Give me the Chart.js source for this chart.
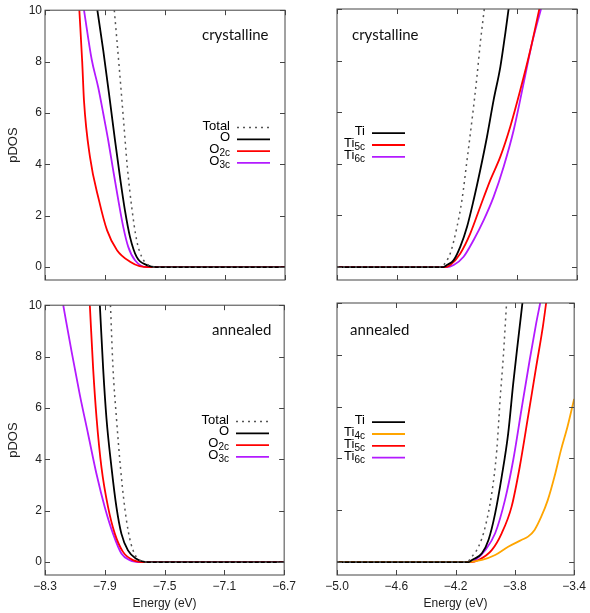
<!DOCTYPE html>
<html>
<head>
<meta charset="utf-8">
<script src="https://cdn.jsdelivr.net/npm/chart.js@4.4.0/dist/chart.umd.min.js"></script>
<style>
  body { margin: 0; background: #fff; }
  #wrap { position: relative; width: 590px; height: 613px; overflow: hidden; }
  canvas { position: absolute; }
</style>
</head>
<body>
<div id="wrap">
  <canvas id="tl" width="300" height="300" style="left:0;top:0"></canvas>
  <canvas id="tr" width="300" height="300" style="left:290px;top:0"></canvas>
  <canvas id="bl" width="300" height="318" style="left:0;top:295px"></canvas>
  <canvas id="br" width="300" height="318" style="left:290px;top:295px"></canvas>
</div>
<script>
// tick values
var oTicks = [-8.3, -7.9, -7.5, -7.1, -6.7];
var tiTicks = [-5.0, -4.6, -4.2, -3.8, -3.4];
var yTicks = [0, 2, 4, 6, 8, 10];

// legend names ("_" marks the subscript)
var oNames = ["Total", "O", "O_2c", "O_3c"];
var tiNamesCrys = ["Total", "Ti", "Ti_5c", "Ti_6c"];
var tiNamesAnn = ["Total", "Ti", "Ti_4c", "Ti_5c", "Ti_6c"];

// [energy (eV), pDOS]
// crystalline, O edge
var crysOTotal = [[-7.838,10],[-7.805,7.76],[-7.778,5.83],[-7.751,3.89],[-7.722,2.34],[-7.689,1.05],[-7.655,0.4],[-7.611,0.08],[-7.555,0],[-6.7,0]];
var crysO = [[-7.951,10],[-7.911,8.41],[-7.867,6.47],[-7.833,4.92],[-7.8,3.5],[-7.767,2.21],[-7.733,1.17],[-7.689,0.4],[-7.622,0.08],[-7.555,0],[-6.7,0]];
var crysO2c = [[-8.071,10],[-8.052,8],[-8.04,6.47],[-8.0,4.28],[-7.94,2.6],[-7.886,1.43],[-7.82,0.66],[-7.73,0.2],[-7.67,0.04],[-7.6,0],[-6.7,0]];
var crysO3c = [[-8.04,10],[-7.989,8.09],[-7.945,6.99],[-7.911,5.96],[-7.878,4.92],[-7.845,3.76],[-7.811,2.6],[-7.778,1.56],[-7.745,0.79],[-7.7,0.27],[-7.622,0],[-6.7,0]];
// crystalline, Ti edge
var crysTiTotal = [[-5.0,0],[-4.3,0],[-4.289,0.08],[-4.245,0.53],[-4.2,1.56],[-4.167,2.6],[-4.133,4.15],[-4.1,5.7],[-4.067,7.38],[-4.045,8.67],[-4.018,10]];
var crysTi = [[-5.0,0],[-4.29,0],[-4.267,0.08],[-4.222,0.27],[-4.178,0.79],[-4.133,1.56],[-4.089,2.6],[-4.045,3.76],[-4.0,5.05],[-3.956,6.47],[-3.911,7.76],[-3.878,9.06],[-3.856,10]];
var crysTi5c = [[-5.0,0],[-4.28,0],[-4.245,0.08],[-4.178,0.53],[-4.111,1.31],[-4.045,2.34],[-3.978,3.37],[-3.911,4.28],[-3.845,5.44],[-3.778,6.86],[-3.711,8.41],[-3.651,10]];
var crysTi6c = [[-5.0,0],[-4.27,0],[-4.222,0.08],[-4.156,0.4],[-4.089,1.05],[-4.022,1.82],[-3.956,2.72],[-3.889,3.89],[-3.822,5.31],[-3.756,7.12],[-3.7,8.67],[-3.64,10]];
// annealed, O edge
var annOTotal = [[-7.862,10],[-7.845,7.54],[-7.822,5.61],[-7.795,3.68],[-7.767,2.14],[-7.74,1.11],[-7.711,0.46],[-7.667,0.08],[-7.589,0],[-6.7,0]];
var annO = [[-7.933,10],[-7.911,7.54],[-7.889,5.61],[-7.855,3.68],[-7.822,2.14],[-7.789,1.11],[-7.745,0.46],[-7.689,0.13],[-7.611,0],[-6.7,0]];
var annO2c = [[-8.0,10],[-7.978,7.54],[-7.955,5.61],[-7.922,3.68],[-7.878,2.14],[-7.833,1.11],[-7.778,0.4],[-7.711,0.08],[-7.633,0],[-6.7,0]];
var annO3c = [[-8.178,10],[-8.122,8.19],[-8.067,6.51],[-8.011,4.97],[-7.955,3.42],[-7.9,2.14],[-7.845,1.11],[-7.789,0.34],[-7.733,0.08],[-7.655,0],[-6.7,0]];
// annealed, Ti edge
var annTiTotal = [[-5.0,0],[-4.12,0],[-4.1,0.14],[-4.045,0.59],[-4.0,1.36],[-3.956,2.65],[-3.922,4.32],[-3.9,6.25],[-3.878,7.93],[-3.856,10]];
var annTi = [[-5.0,0],[-4.111,0],[-4.089,0.08],[-4.022,0.34],[-3.978,0.85],[-3.933,1.88],[-3.889,3.29],[-3.845,4.97],[-3.811,6.9],[-3.778,8.57],[-3.749,10]];
var annTi4c = [[-5.0,0],[-4.111,0],[-4.022,0.08],[-3.933,0.27],[-3.845,0.59],[-3.756,0.85],[-3.711,0.98],[-3.667,1.24],[-3.622,1.75],[-3.578,2.39],[-3.533,3.29],[-3.489,4.32],[-3.445,5.22],[-3.4,6.3]];
var annTi5c = [[-5.0,0],[-4.1,0],[-4.045,0.08],[-3.956,0.46],[-3.889,1.11],[-3.822,2.14],[-3.767,3.68],[-3.711,5.61],[-3.656,7.54],[-3.611,9.09],[-3.589,10]];
var annTi6c = [[-5.0,0],[-4.1,0],[-4.067,0.08],[-4.0,0.46],[-3.933,1.11],[-3.867,2.39],[-3.811,3.94],[-3.756,5.87],[-3.7,7.8],[-3.656,9.22],[-3.629,10]];

Chart.defaults.font.family = "'Liberation Sans', Arial, sans-serif";
Chart.defaults.color = "#222";

var colors = { Total: "#555", black: "#000", red: "#ff0000", purple: "#b31aff", orange: "#ffa500" };

function fmt(v) {
  return (v < 0 ? "\u2212" : "") + Math.abs(v).toFixed(1);
}

// gnuplot-like frame, inward ticks, note text and legend
var gnuPlugin = {
  id: "gnu",
  afterDatasetsDraw: function (chart, args, opts) {
    var ctx = chart.ctx, a = chart.chartArea;
    var xs = chart.scales.x, ys = chart.scales.y;
    ctx.save();
    ctx.strokeStyle = "#444";
    ctx.lineWidth = 1;
    ctx.strokeRect(a.left, a.top, a.right - a.left, a.bottom - a.top);
    ctx.beginPath();
    xs.ticks.forEach(function (t) {
      var px = Math.round(xs.getPixelForValue(t.value)) + 0.5;
      ctx.moveTo(px, a.bottom); ctx.lineTo(px, a.bottom - 5);
      ctx.moveTo(px, a.top); ctx.lineTo(px, a.top + 5);
    });
    ys.ticks.forEach(function (t) {
      var py = Math.round(ys.getPixelForValue(t.value)) + 0.5;
      ctx.moveTo(a.left, py); ctx.lineTo(a.left + 5, py);
      ctx.moveTo(a.right, py); ctx.lineTo(a.right - 5, py);
    });
    ctx.stroke();

    // note
    ctx.fillStyle = "#111";
    ctx.font = "15px Lato, 'Open Sans', sans-serif";
    ctx.textBaseline = "middle";
    ctx.textAlign = "left";
    ctx.fillText(opts.note, opts.noteX - opts.ox, opts.noteY - opts.oy);

    // legend
    var row = 0;
    chart.data.datasets.forEach(function (ds) {
      if (!ds.inLegend) return;
      var y = opts.legY - opts.oy + row * 11.8;
      var parts = ds.name.split("_");
      var right = opts.legRight - opts.ox;
      ctx.textAlign = "right";
      ctx.fillStyle = "#000";
      var subW = 0;
      if (parts[1]) {
        ctx.font = "10px 'Liberation Sans', Arial, sans-serif";
        subW = ctx.measureText(parts[1]).width;
        ctx.fillText(parts[1], right, y + 3);
      }
      ctx.font = "13px 'Liberation Sans', Arial, sans-serif";
      ctx.fillText(parts[0], right - subW, y - 1);
      ctx.beginPath();
      ctx.strokeStyle = ds.borderColor;
      ctx.lineWidth = ds.borderWidth;
      ctx.setLineDash(ds.borderDash);
      ctx.moveTo(opts.legX1 - opts.ox, y + 0.5);
      ctx.lineTo(opts.legX2 - opts.ox, y + 0.5);
      ctx.stroke();
      ctx.setLineDash([]);
      row++;
    });
    ctx.restore();
  }
};

function panel(id, cfg) {
  var datasets = cfg.series.map(function (s, i) {
    var name = cfg.names[i];
    return {
      label: name.replace("_", ""),
      name: name,
      inLegend: name !== "Total" || cfg.totalInLegend,
      data: s.map(function (p) { return { x: p[0], y: p[1] }; }),
      borderColor: cfg.colors[i],
      borderWidth: name === "Total" ? 1.5 : 1.8,
      borderDash: name === "Total" ? [2, 4] : [],
      pointRadius: 0,
      fill: false,
      cubicInterpolationMode: "monotone"
    };
  });
  var xt = cfg.xTicks;
  new Chart(document.getElementById(id), {
    type: "line",
    data: { datasets: datasets },
    options: {
      responsive: false,
      animation: false,
      layout: { padding: { top: cfg.padTop, right: cfg.padRight, left: 0, bottom: 0 } },
      plugins: {
        legend: { display: false },
        tooltip: { enabled: false },
        gnu: {
          ox: cfg.ox, oy: cfg.oy, note: cfg.note, noteX: cfg.noteX, noteY: cfg.noteY,
          legRight: cfg.legRight, legX1: cfg.legRight + 7, legX2: cfg.legRight + 40, legY: cfg.legY
        }
      },
      scales: {
        x: {
          type: "linear",
          min: xt[0],
          max: xt[xt.length - 1],
          grid: { display: false, drawTicks: false },
          border: { display: false },
          afterBuildTicks: function (s) { s.ticks = xt.map(function (v) { return { value: v }; }); },
          afterFit: function (s) { s.height = cfg.xHeight; },
          ticks: { display: cfg.xLabels, padding: 4, autoSkip: false, maxRotation: 0, font: { size: 12 }, callback: fmt },
          title: { display: cfg.xLabels, text: "Energy (eV)", font: { size: 12 }, padding: { top: 0, bottom: 2 } }
        },
        y: {
          min: -0.5,
          max: 10,
          grid: { display: false, drawTicks: false },
          border: { display: false },
          afterBuildTicks: function (s) { s.ticks = yTicks.map(function (v) { return { value: v }; }); },
          afterFit: function (s) { s.width = cfg.yWidth; },
          ticks: { display: cfg.yLabels, padding: 3, font: { size: 12 } },
          title: { display: cfg.yLabels, text: "pDOS", font: { size: 13 }, padding: { top: 6, bottom: 0 } }
        }
      }
    },
    plugins: [gnuPlugin]
  });
}

panel("tl", {
  ox: 0, oy: 0, padTop: 9, padRight: 15, yWidth: 45, xHeight: 20, xLabels: false, yLabels: true,
  xTicks: oTicks, names: oNames, totalInLegend: true,
  series: [crysOTotal, crysO, crysO2c, crysO3c],
  colors: [colors.Total, colors.black, colors.red, colors.purple],
  note: "crystalline", noteX: 202, noteY: 35, legRight: 230, legY: 127
});
panel("tr", {
  ox: 290, oy: 0, padTop: 9, padRight: 13, yWidth: 47, xHeight: 20, xLabels: false, yLabels: false,
  xTicks: tiTicks, names: tiNamesCrys, totalInLegend: false,
  series: [crysTiTotal, crysTi, crysTi5c, crysTi6c],
  colors: [colors.Total, colors.black, colors.red, colors.purple],
  note: "crystalline", noteX: 352, noteY: 35, legRight: 365, legY: 132.7
});
panel("bl", {
  ox: 0, oy: 295, padTop: 8, padRight: 15, yWidth: 45, xHeight: 38, xLabels: true, yLabels: true,
  xTicks: oTicks, names: oNames, totalInLegend: true,
  series: [annOTotal, annO, annO2c, annO3c],
  colors: [colors.Total, colors.black, colors.red, colors.purple],
  note: "annealed", noteX: 212, noteY: 330, legRight: 229, legY: 421
});
panel("br", {
  ox: 290, oy: 295, padTop: 8, padRight: 13, yWidth: 47, xHeight: 38, xLabels: true, yLabels: false,
  xTicks: tiTicks, names: tiNamesAnn, totalInLegend: false,
  series: [annTiTotal, annTi, annTi4c, annTi5c, annTi6c],
  colors: [colors.Total, colors.black, colors.orange, colors.red, colors.purple],
  note: "annealed", noteX: 350, noteY: 330, legRight: 365, legY: 421.7
});
</script>
</body>
</html>
